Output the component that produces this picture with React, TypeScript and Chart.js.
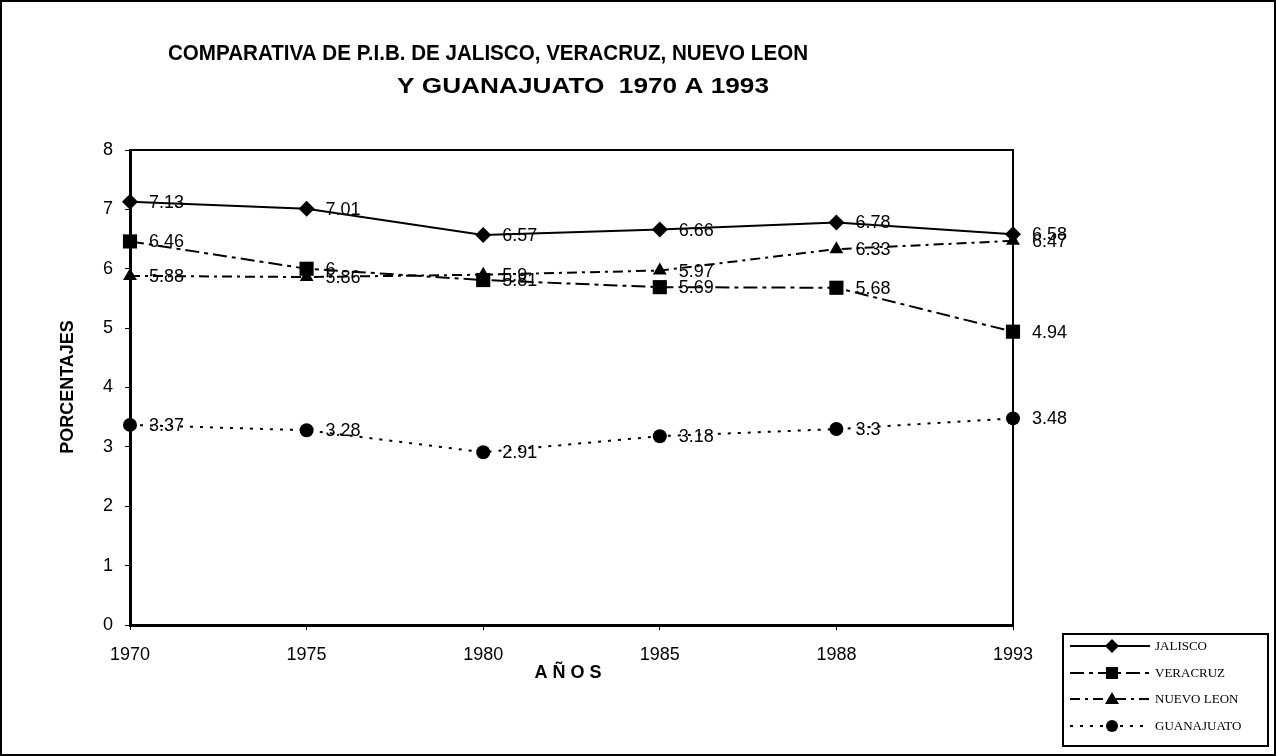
import React, { useEffect, useRef } from "react";
import { Chart, registerables } from "chart.js";

Chart.register(...registerables);

const years = ["1970", "1975", "1980", "1985", "1988", "1993"];
const jalisco = [7.13, 7.01, 6.57, 6.66, 6.78, 6.58];
const veracruz = [6.46, 6, 5.81, 5.69, 5.68, 4.94];
const nuevoLeon = [5.88, 5.86, 5.9, 5.97, 6.33, 6.47];
const guanajuato = [3.37, 3.28, 2.91, 3.18, 3.3, 3.48];
const seriesNames = ["JALISCO", "VERACRUZ", "NUEVO LEON", "GUANAJUATO"];
const titleLines = [
  "COMPARATIVA DE P.I.B. DE JALISCO, VERACRUZ, NUEVO LEON",
  "Y GUANAJUATO  1970 A 1993",
];
const yAxisTitle = "PORCENTAJES";
const xAxisTitle = "A Ñ O S";

const SANS = "'Liberation Sans', Arial, sans-serif";

function marker(ctx: CanvasRenderingContext2D, style: string, x: number, y: number) {
  ctx.beginPath();
  if (style === "rectRot") {
    ctx.moveTo(x, y - 7);
    ctx.lineTo(x + 7, y);
    ctx.lineTo(x, y + 7);
    ctx.lineTo(x - 7, y);
    ctx.closePath();
  } else if (style === "rect") {
    ctx.rect(x - 6, y - 6, 12, 12);
  } else if (style === "triangle") {
    ctx.moveTo(x, y - 7);
    ctx.lineTo(x + 7, y + 5);
    ctx.lineTo(x - 7, y + 5);
    ctx.closePath();
  } else {
    ctx.arc(x, y, 6, 0, Math.PI * 2);
  }
  ctx.fill();
}

export default function App() {
  const ref = useRef<HTMLCanvasElement | null>(null);

  useEffect(() => {
    const canvas = ref.current;
    if (!canvas) return;

    const styles = [
      { dash: [] as number[], point: "rectRot", r: 8 },
      { dash: [14, 5, 4, 5], point: "rect", r: 10 },
      { dash: [10, 5, 3, 5], point: "triangle", r: 8 },
      { dash: [3, 7], point: "circle", r: 7 },
    ];
    const values = [jalisco, veracruz, nuevoLeon, guanajuato];

    const decor = {
      id: "decor",
      beforeDraw(chart: any) {
        const ctx = chart.ctx;
        ctx.save();
        ctx.fillStyle = "#fff";
        ctx.fillRect(0, 0, chart.width, chart.height);
        ctx.strokeStyle = "#000";
        ctx.lineWidth = 2;
        ctx.strokeRect(1, 1, chart.width - 2, chart.height - 2);
        ctx.restore();
      },
      beforeDatasetsDraw(chart: any) {
        const ctx = chart.ctx;
        const a = chart.chartArea;
        ctx.save();
        ctx.strokeStyle = "#000";
        ctx.lineWidth = 2;
        ctx.beginPath();
        ctx.moveTo(a.left, a.top);
        ctx.lineTo(a.right, a.top);
        ctx.lineTo(a.right, a.bottom);
        ctx.stroke();
        ctx.restore();
      },
      afterDatasetsDraw(chart: any) {
        const ctx = chart.ctx;
        ctx.save();
        ctx.fillStyle = "#000";
        ctx.font = `18px ${SANS}`;
        ctx.textAlign = "left";
        ctx.textBaseline = "middle";
        chart.data.datasets.forEach((ds: any, i: number) => {
          const meta = chart.getDatasetMeta(i);
          meta.data.forEach((el: any, j: number) => {
            ctx.fillText(String(ds.data[j]), el.x + 19, el.y + 1);
          });
        });

        // Title lines
        ctx.font = `bold 22px ${SANS}`;
        ctx.textAlign = "center";
        ctx.textBaseline = "alphabetic";
        const targets = [
          { cx: 488, w: 640, y: 60 },
          { cx: 583, w: 372, y: 93 },
        ];
        titleLines.forEach((t, i) => {
          const m = ctx.measureText(t).width;
          const sx = targets[i].w / m;
          ctx.save();
          ctx.translate(targets[i].cx, targets[i].y);
          ctx.scale(sx, 1);
          ctx.fillText(t, 0, 0);
          ctx.restore();
        });

        // Axis titles
        ctx.font = `bold 18px ${SANS}`;
        ctx.textBaseline = "middle";
        ctx.save();
        ctx.translate(68, 387);
        ctx.rotate(-Math.PI / 2);
        ctx.fillText(yAxisTitle, 0, 0);
        ctx.restore();
        ctx.fillText(xAxisTitle, 568, 673);

        // Legend
        const lx = 1063, ly = 634, lw = 205, lh = 112;
        ctx.lineWidth = 2;
        ctx.strokeStyle = "#000";
        ctx.strokeRect(lx, ly, lw, lh);
        const rows = [646, 673, 699, 726];
        seriesNames.forEach((name, i) => {
          const y = rows[i];
          ctx.save();
          ctx.lineWidth = 2;
          ctx.setLineDash(styles[i].dash);
          ctx.beginPath();
          ctx.moveTo(1070, y);
          ctx.lineTo(1150, y);
          ctx.stroke();
          ctx.restore();
          ctx.save();
          ctx.fillStyle = "#000";
          marker(ctx, styles[i].point, 1112, y);
          ctx.restore();
          ctx.save();
          ctx.fillStyle = "#000";
          ctx.font = `13px 'Liberation Serif', 'Times New Roman', serif`;
          ctx.textAlign = "left";
          ctx.textBaseline = "middle";
          ctx.fillText(name, 1155, y + 1);
          ctx.restore();
        });
        ctx.restore();
      },
    };

    const chart = new Chart(canvas, {
      type: "line",
      data: {
        labels: years,
        datasets: values.map((v, i) => ({
          label: seriesNames[i],
          data: v,
          borderColor: "#000",
          backgroundColor: "#000",
          borderWidth: 2,
          borderDash: styles[i].dash,
          pointStyle: styles[i].point as any,
          pointRadius: styles[i].r,
          pointBorderWidth: 0,
          pointBackgroundColor: "#000",
          tension: 0,
          fill: false,
        })),
      },
      options: {
        responsive: false,
        animation: false,
        devicePixelRatio: 1,
        layout: { padding: { left: 0, top: 150, right: 263, bottom: 0 } },
        plugins: {
          legend: { display: false },
          title: { display: false },
          tooltip: { enabled: false },
        },
        scales: {
          x: {
            type: "category",
            offset: false,
            afterFit: (s: any) => {
              s.height = 131;
            },
            grid: {
              display: true,
              drawOnChartArea: false,
              drawTicks: true,
              tickLength: 5,
              color: "#000",
              lineWidth: 1,
            },
            border: { display: true, color: "#000", width: 3 },
            ticks: {
              color: "#000",
              font: { size: 18, family: SANS },
              padding: 14,
              maxRotation: 0,
            },
          },
          y: {
            min: 0,
            max: 8,
            afterFit: (s: any) => {
              s.width = 130;
            },
            grid: {
              display: true,
              drawOnChartArea: false,
              drawTicks: true,
              tickLength: 5,
              color: "#000",
              lineWidth: 1,
            },
            border: { display: true, color: "#000", width: 3 },
            ticks: {
              stepSize: 1,
              color: "#000",
              font: { size: 18, family: SANS },
              padding: 12,
            },
          },
        },
      },
      plugins: [decor],
    });

    return () => chart.destroy();
  }, []);

  return (
    <div style={{ position: "absolute", left: 0, top: 0, width: 1276, height: 756 }}>
      <canvas ref={ref} width={1276} height={756} style={{ width: 1276, height: 756 }} />
    </div>
  );
}
